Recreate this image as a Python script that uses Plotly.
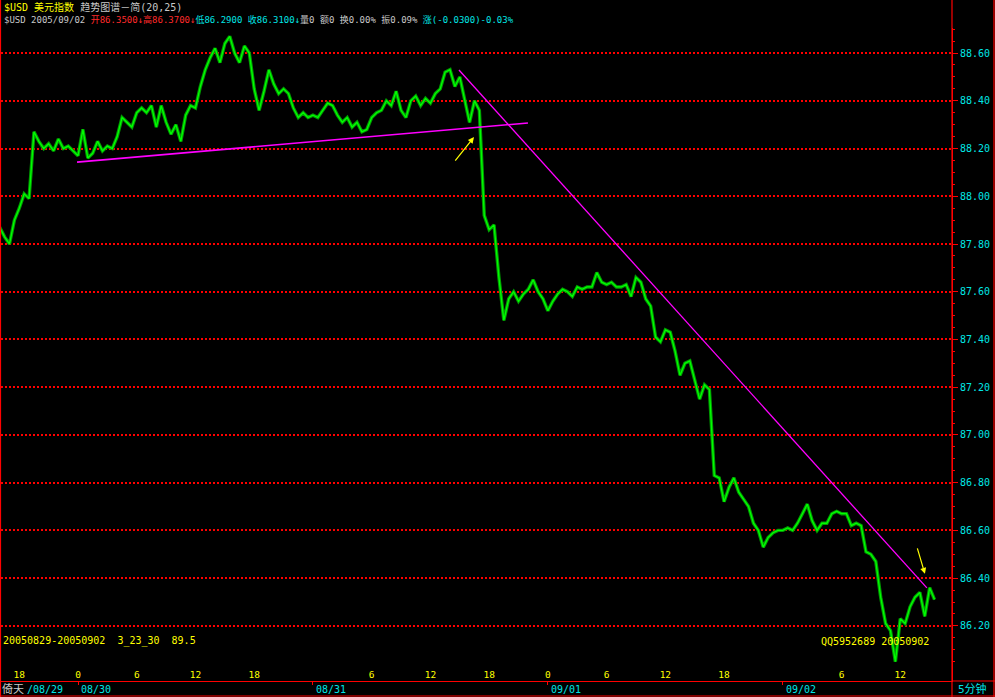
import pandas as pd
import plotly.graph_objects as go

# ---------------- data ----------------
# $USD index, 30-minute samples starting 2005-08-29 16:00
close = [
    87.87, 87.83, 87.80, 87.90, 87.95, 88.01, 87.99, 88.27, 88.23, 88.20,
    88.22, 88.19, 88.24, 88.20, 88.21, 88.19, 88.17, 88.28, 88.16, 88.18,
    88.23, 88.19, 88.21, 88.20, 88.25, 88.33, 88.31, 88.29, 88.35, 88.37,
    88.35, 88.38, 88.29, 88.38, 88.31, 88.26, 88.30, 88.23, 88.34, 88.38,
    88.37, 88.46, 88.53, 88.58, 88.62, 88.56, 88.64, 88.67, 88.60, 88.56,
    88.63, 88.60, 88.45, 88.36, 88.44, 88.53, 88.47, 88.43, 88.45, 88.43,
    88.37, 88.33, 88.35, 88.33, 88.34, 88.33, 88.36, 88.39, 88.38, 88.34,
    88.31, 88.33, 88.29, 88.31, 88.27, 88.28, 88.33, 88.35, 88.36, 88.40,
    88.38, 88.44, 88.36, 88.33, 88.40, 88.42, 88.38, 88.41, 88.39, 88.43,
    88.45, 88.52, 88.53, 88.46, 88.50, 88.40, 88.31, 88.40, 88.36, 87.92,
    87.86, 87.88, 87.66, 87.48, 87.57, 87.60, 87.56, 87.59, 87.61, 87.65,
    87.60, 87.57, 87.52, 87.56, 87.59, 87.61, 87.60, 87.58, 87.62, 87.61,
    87.62, 87.62, 87.68, 87.64, 87.63, 87.64, 87.62, 87.62, 87.63, 87.58,
    87.66, 87.64, 87.57, 87.54, 87.41, 87.39, 87.44, 87.43, 87.35, 87.25,
    87.30, 87.31, 87.23, 87.15, 87.21, 87.19, 86.83, 86.82, 86.72, 86.78,
    86.82, 86.76, 86.73, 86.70, 86.63, 86.60, 86.53, 86.57, 86.59, 86.60,
    86.60, 86.61, 86.60, 86.63, 86.67, 86.71, 86.64, 86.60, 86.63, 86.63,
    86.67, 86.68, 86.67, 86.67, 86.62, 86.63, 86.62, 86.51, 86.50, 86.47,
    86.32, 86.21, 86.18, 86.05, 86.23, 86.21, 86.28, 86.32, 86.34, 86.24,
    86.36, 86.31,
]
times = pd.date_range("2005-08-29 16:00", periods=len(close), freq="30min")

# last 5-minute bar shown in the header
last_open, last_high, last_low, last_close = 86.35, 86.37, 86.29, close[-1]
last_change = -0.03

# hand-drawn trend lines
support_t = ["2005-08-29 23:54", "2005-08-31 21:58"]
support_v = [88.143, 88.307]
resist_t = ["2005-08-31 14:55", "2005-09-02 14:43"]
resist_v = [88.529, 86.359]

# hour ticks along the time axis
hour_ticks = ["2005-08-29 18:00", "2005-08-30 00:00", "2005-08-30 06:00", "2005-08-30 12:00",
              "2005-08-30 18:00", "2005-08-31 06:00", "2005-08-31 12:00", "2005-08-31 18:00",
              "2005-09-01 00:00", "2005-09-01 06:00", "2005-09-01 12:00", "2005-09-01 18:00",
              "2005-09-02 06:00", "2005-09-02 12:00"]
hour_labels = ["18", "0", "6", "12", "18", "6", "12", "18", "0", "6", "12", "18", "6", "12"]

day_starts = ["2005-08-30", "2005-08-31", "2005-09-01", "2005-09-02"]
day_labels = ["08/30", "08/31", "09/01", "09/02"]

# ---------------- figure ----------------
W, H = 995, 697
ML, MR, MT, MB = 1, 43, 28, 16
PW, PH = W - ML - MR, H - MT - MB


def px_x(px):
    return (px - ML) / PW


def px_y(py):
    return (H - MB - py) / PH


RED = "#ff0000"
CYAN = "#00e6e6"
YELLOW = "#ffff00"
GRAY = "#c8c8c8"
MONO = "DejaVu Sans Mono, Noto Sans CJK SC"

fig = go.Figure()

fig.add_trace(go.Scatter(x=times, y=close, mode="lines",
                         line=dict(color="#009a00", width=3.4), hoverinfo="skip"))
fig.add_trace(go.Scatter(x=times, y=close, mode="lines",
                         line=dict(color="#00ff00", width=1.3)))
fig.add_trace(go.Scatter(x=support_t, y=support_v, mode="lines",
                         line=dict(color="#ff00ff", width=1.6)))
fig.add_trace(go.Scatter(x=resist_t, y=resist_v, mode="lines",
                         line=dict(color="#ff00ff", width=1.3)))
# date ticks on a twin axis
fig.add_trace(go.Scatter(x=[times[0]], y=[close[0]], xaxis="x2", mode="markers",
                         marker=dict(opacity=0), hoverinfo="skip"))

x_range = ["2005-08-29 16:08", "2005-09-02 17:17"]

fig.update_layout(
    width=W, height=H,
    margin=dict(l=ML, r=MR, t=MT, b=MB),
    paper_bgcolor="#000000", plot_bgcolor="#000000",
    showlegend=False,
    xaxis=dict(range=x_range, showgrid=False, zeroline=False,
               showline=True, linecolor=RED, linewidth=1,
               tickvals=hour_ticks, ticktext=hour_labels, ticks="",
               ticklabelposition="inside",
               tickfont=dict(family=MONO, size=9.5, color=YELLOW)),
    xaxis2=dict(range=x_range, overlaying="x", side="bottom", anchor="y",
                showgrid=False, zeroline=False, showline=False,
                tickvals=day_starts, ticks="outside", ticklen=3,
                tickcolor=RED, showticklabels=False),
    yaxis=dict(range=[85.969, 88.705], side="right", zeroline=False,
               showline=True, linecolor=RED, linewidth=1,
               dtick=0.2, tick0=86.0, tickformat=".2f",
               ticks="outside", ticklen=5, tickcolor=RED,
               minor=dict(dtick=0.05, ticks="outside", ticklen=2, tickcolor=RED),
               showgrid=True, gridcolor="#ff0000", gridwidth=1.5, griddash="1.5px,2.5px",
               tickfont=dict(family=MONO, size=10, color=CYAN)),
)

ann = []
hdr1 = (f'<span style="color:{YELLOW}">$USD 美元指数</span> '
        f'<span style="color:{GRAY}">趋势图谱－简(20,25)</span>')
pct = last_change / (last_close - last_change) * 100
hdr2 = (f'<span style="color:{GRAY}">$USD 2005/09/02 </span>'
        f'<span style="color:#ff2a2a">开{last_open:.4f}↓高{last_high:.4f}↓</span>'
        f'<span style="color:{CYAN}">低{last_low:.4f} 收{last_close:.4f}↓</span>'
        f'<span style="color:{GRAY}">量0 额0 换0.00% 振0.09% </span>'
        f'<span style="color:{CYAN}">涨({last_change:.4f}){pct:.2f}%</span>')
ann.append(dict(text=hdr1, x=px_x(2), y=px_y(7), xanchor="left", yanchor="middle",
                font=dict(family=MONO, size=10, color=GRAY)))
ann.append(dict(text=hdr2, x=px_x(2), y=px_y(20), xanchor="left", yanchor="middle"))
ann.append(dict(text="20050829-20050902\u00a0\u00a03_23_30\u00a0\u00a089.5",
                x=px_x(1), y=px_y(641), xanchor="left", yanchor="middle",
                font=dict(family=MONO, size=10, color=YELLOW)))
ann.append(dict(text="QQ5952689 20050902", x=px_x(931), y=px_y(641),
                xanchor="right", yanchor="middle",
                font=dict(family=MONO, size=10, color=YELLOW)))
ann.append(dict(text="倚天", x=px_x(0), y=px_y(689), xanchor="left", yanchor="middle",
                font=dict(family=MONO, size=11, color=GRAY)))
ann.append(dict(text="/08/29", x=px_x(25), y=px_y(689), xanchor="left", yanchor="middle",
                font=dict(family=MONO, size=10, color=CYAN)))
ann.append(dict(text="5分钟", x=px_x(956), y=px_y(689), xanchor="left", yanchor="middle",
                font=dict(family=MONO, size=11, color=CYAN)))
for d, lab in zip(day_starts, day_labels):
    ann.append(dict(text=lab, x=d, xref="x", y=px_y(689), yref="paper",
                    xanchor="left", yanchor="middle", xshift=1,
                    font=dict(family=MONO, size=10, color=CYAN)))
for a in ann:
    a.setdefault("xref", "paper")
    a.setdefault("yref", "paper")
    a.setdefault("showarrow", False)
    a.setdefault("font", dict(family=MONO, size=9, color=GRAY))

# yellow pointer arrows
ann.append(dict(x="2005-08-31 16:27", y=88.248, ax="2005-08-31 14:25", ay=88.143,
                xref="x", yref="y", axref="x", ayref="y", text="", showarrow=True,
                arrowhead=2, arrowsize=1, arrowwidth=1.2, arrowcolor=YELLOW))
ann.append(dict(x="2005-09-02 14:31", y=86.418, ax="2005-09-02 13:42", ay=86.531,
                xref="x", yref="y", axref="x", ayref="y", text="", showarrow=True,
                arrowhead=2, arrowsize=1, arrowwidth=1.2, arrowcolor=YELLOW))
fig.update_layout(annotations=ann)

# outer frame and bottom strip
frame = [
    (px_x(0.5), px_y(0), px_x(0.5), px_y(697)),
    (px_x(994), px_y(0), px_x(994), px_y(697)),
    (px_x(952), px_y(0), px_x(952), px_y(697)),
    (px_x(0), px_y(696), px_x(995), px_y(696)),
    (px_x(952), px_y(681), px_x(995), px_y(681)),
]
fig.update_layout(shapes=[dict(type="line", xref="paper", yref="paper",
                               x0=a, y0=b, x1=c, y1=d,
                               line=dict(color=RED, width=1.2)) for a, b, c, d in frame])

fig.write_html("out.html")
